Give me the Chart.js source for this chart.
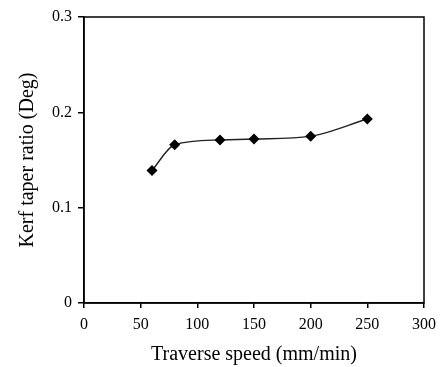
<!DOCTYPE html>
<html><head><meta charset="utf-8">
<script src="https://cdn.jsdelivr.net/npm/chart.js@4"></script>
<style>html,body{margin:0;padding:0;background:#fff}</style>
</head><body>
<canvas id="c" width="443" height="367"></canvas>
<script>
const speeds = [60, 80, 120, 150, 200, 250];
const taper = [0.139, 0.166, 0.171, 0.172, 0.175, 0.193];
const xTicks = [0, 50, 100, 150, 200, 250, 300];
const yTicks = [0, 0.1, 0.2, 0.3];

const boxPlugin = {
  id: 'box',
  afterDraw(chart) {
    const a = chart.chartArea, ctx = chart.ctx;
    ctx.save();
    ctx.strokeStyle = '#000';
    ctx.lineWidth = 1.5;
    ctx.strokeRect(a.left, a.top, a.right - a.left, a.bottom - a.top);
    ctx.restore();
  }
};

new Chart(document.getElementById('c'), {
  type: 'line',
  data: {
    datasets: [{
      data: speeds.map((x, i) => ({x, y: taper[i]})),
      borderColor: '#222',
      borderWidth: 1.4,
      backgroundColor: '#000',
      pointStyle: 'rectRot',
      pointRadius: 5.5,
      pointBorderWidth: 0,
      cubicInterpolationMode: 'monotone',
      fill: false
    }]
  },
  options: {
    responsive: false,
    animation: false,
    layout: {padding: {left: 0, right: 18, top: 17, bottom: 0}},
    plugins: {legend: {display: false}, tooltip: {enabled: false}},
    scales: {
      x: {
        type: 'linear', min: 0, max: 300,
        afterBuildTicks: s => { s.ticks = xTicks.map(v => ({value: v})); },
        afterFit: s => { s.height = 64; },
        grid: {display: true, drawOnChartArea: false, drawTicks: true, tickLength: 5, color: '#000', lineWidth: 1.5},
        border: {display: true, color: '#000', width: 1.5},
        ticks: {color: '#000', font: {family: 'Liberation Serif', size: 16}, padding: 7, maxRotation: 0},
        title: {display: true, text: 'Traverse speed (mm/min)', color: '#000', font: {family: 'Liberation Serif', size: 20}, padding: {top: 4, bottom: 0}}
      },
      y: {
        type: 'linear', min: 0, max: 0.3,
        afterBuildTicks: s => { s.ticks = yTicks.map(v => ({value: v})); },
        afterFit: s => { s.width = 84; },
        grid: {display: true, drawOnChartArea: false, drawTicks: true, tickLength: 6, color: '#000', lineWidth: 1.5},
        border: {display: true, color: '#000', width: 1.5},
        ticks: {color: '#000', font: {family: 'Liberation Serif', size: 16}, padding: 6, callback: v => v === 0 ? '0' : v.toFixed(1)},
        title: {display: true, text: 'Kerf taper ratio (Deg)', color: '#000', font: {family: 'Liberation Serif', size: 20}, padding: {top: 16, bottom: 6}}
      }
    }
  },
  plugins: [boxPlugin]
});
</script>
</body></html>
